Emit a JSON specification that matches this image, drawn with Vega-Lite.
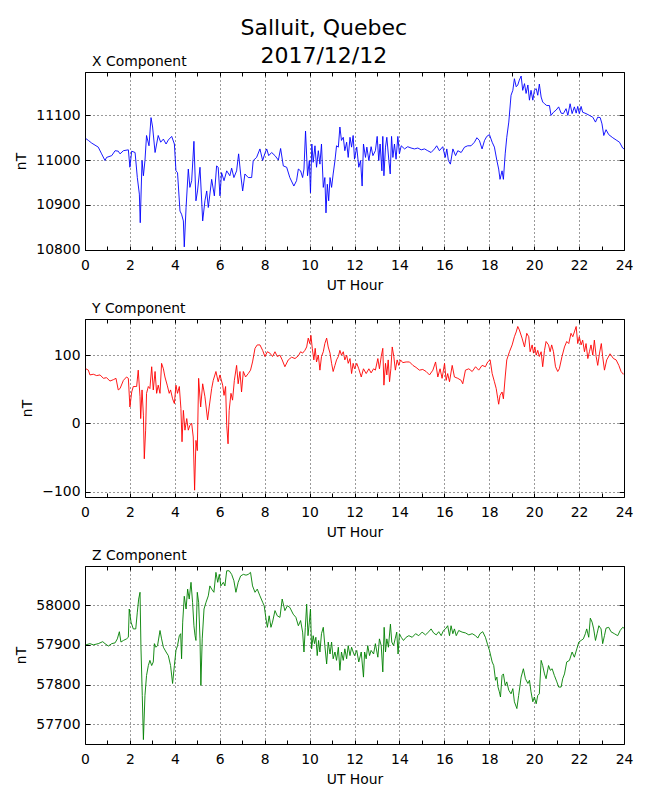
{
  "$schema": "https://vega.github.io/schema/vega-lite/v6.json",
  "padding": {"left": 14, "top": 16, "right": 10, "bottom": 10},
  "background": "white",
  "config": {
    "font": "DejaVu Sans",
    "view": {"stroke": "black", "strokeWidth": 1},
    "axis": {
      "labelFont": "DejaVu Sans", "labelFontSize": 13.9, "labelColor": "black",
      "titleFont": "DejaVu Sans", "titleFontSize": 13.9, "titleFontWeight": "normal", "titleColor": "black",
      "tickColor": "black", "tickWidth": 1, "domain": false,
      "gridColor": "black", "gridDash": [1, 3], "gridWidth": 0.8, "gridOpacity": 1,
      "labelFlush": false, "labelOverlap": false, "titlePadding": 7
    }
  },
  "title": {"text": ["Salluit, Quebec", "2017/12/12"], "fontSize": 22, "fontWeight": "normal", "font": "DejaVu Sans", "color": "black", "lineHeight": 28, "anchor": "middle", "offset": -13.5},
  "spacing": 7,
  "datasets": {
    "X": [
      {"h":0.04,"v":11048},{"h":0.15,"v":11044},{"h":0.30,"v":11038},{"h":0.59,"v":11029},{"h":0.74,"v":11014},{"h":0.89,"v":10999},{"h":0.96,"v":11006},{"h":1.19,"v":11010},{"h":1.34,"v":11021},{"h":1.48,"v":11020},{"h":1.56,"v":11014},{"h":1.71,"v":11021},{"h":1.93,"v":11023},{"h":2.00,"v":10984},{"h":2.08,"v":11020},{"h":2.23,"v":11017},{"h":2.33,"v":10961},{"h":2.42,"v":10924},{"h":2.46,"v":10860},{"h":2.54,"v":10999},{"h":2.60,"v":10965},{"h":2.67,"v":10999},{"h":2.74,"v":11055},{"h":2.85,"v":11032},{"h":2.94,"v":11095},{"h":3.01,"v":11074},{"h":3.12,"v":11017},{"h":3.26,"v":11055},{"h":3.37,"v":11040},{"h":3.49,"v":11047},{"h":3.61,"v":11036},{"h":3.71,"v":11045},{"h":3.86,"v":11053},{"h":3.98,"v":11036},{"h":4.05,"v":10976},{"h":4.12,"v":10972},{"h":4.23,"v":10886},{"h":4.30,"v":10879},{"h":4.38,"v":10864},{"h":4.42,"v":10806},{"h":4.50,"v":10894},{"h":4.60,"v":10980},{"h":4.67,"v":10939},{"h":4.75,"v":10954},{"h":4.85,"v":11042},{"h":4.94,"v":10909},{"h":5.01,"v":10931},{"h":5.12,"v":10984},{"h":5.24,"v":10864},{"h":5.34,"v":10909},{"h":5.42,"v":10931},{"h":5.49,"v":10894},{"h":5.64,"v":10957},{"h":5.76,"v":10920},{"h":5.86,"v":10987},{"h":5.93,"v":10984},{"h":6.01,"v":10920},{"h":6.08,"v":10972},{"h":6.19,"v":10954},{"h":6.31,"v":10976},{"h":6.45,"v":10965},{"h":6.53,"v":10982},{"h":6.63,"v":10961},{"h":6.75,"v":10976},{"h":6.84,"v":11014},{"h":6.93,"v":10969},{"h":7.02,"v":10931},{"h":7.12,"v":10969},{"h":7.27,"v":10961},{"h":7.42,"v":10961},{"h":7.49,"v":10999},{"h":7.64,"v":11006},{"h":7.79,"v":11025},{"h":7.91,"v":10999},{"h":8.01,"v":11015},{"h":8.09,"v":11025},{"h":8.18,"v":11010},{"h":8.31,"v":11017},{"h":8.46,"v":11010},{"h":8.61,"v":11000},{"h":8.71,"v":11026},{"h":8.83,"v":10987},{"h":8.98,"v":10984},{"h":9.12,"v":10961},{"h":9.30,"v":10942},{"h":9.42,"v":10954},{"h":9.50,"v":10980},{"h":9.60,"v":10976},{"h":9.69,"v":10961},{"h":9.75,"v":10980},{"h":9.82,"v":11065},{"h":9.91,"v":10965},{"h":9.99,"v":10999},{"h":10.04,"v":10927},{"h":10.10,"v":11036},{"h":10.16,"v":10995},{"h":10.24,"v":11032},{"h":10.31,"v":10984},{"h":10.39,"v":11021},{"h":10.46,"v":10991},{"h":10.53,"v":11036},{"h":10.61,"v":10939},{"h":10.68,"v":10961},{"h":10.73,"v":10882},{"h":10.79,"v":10946},{"h":10.85,"v":10909},{"h":10.91,"v":10961},{"h":10.98,"v":10939},{"h":11.05,"v":10969},{"h":11.13,"v":10999},{"h":11.20,"v":11032},{"h":11.28,"v":11029},{"h":11.35,"v":11074},{"h":11.42,"v":11044},{"h":11.50,"v":11051},{"h":11.57,"v":11021},{"h":11.65,"v":11040},{"h":11.72,"v":11006},{"h":11.80,"v":11051},{"h":11.87,"v":11029},{"h":11.94,"v":11055},
      {"h":12.00,"v":11002},{"h":12.10,"v":11029},{"h":12.19,"v":10984},{"h":12.27,"v":10999},{"h":12.34,"v":10942},{"h":12.40,"v":11036},{"h":12.49,"v":11006},{"h":12.55,"v":11029},{"h":12.64,"v":10999},{"h":12.74,"v":11030},{"h":12.82,"v":11010},{"h":12.93,"v":11021},{"h":13.01,"v":11053},{"h":13.08,"v":10999},{"h":13.14,"v":11036},{"h":13.22,"v":10976},{"h":13.26,"v":11053},{"h":13.31,"v":10965},{"h":13.38,"v":11029},{"h":13.44,"v":11051},{"h":13.53,"v":10999},{"h":13.59,"v":10969},{"h":13.65,"v":11053},{"h":13.71,"v":11006},{"h":13.78,"v":11036},{"h":13.85,"v":11002},{"h":13.93,"v":11053},{"h":14.00,"v":11014},{"h":14.08,"v":11032},{"h":14.23,"v":11025},{"h":14.37,"v":11030},{"h":14.52,"v":11027},{"h":14.67,"v":11025},{"h":14.82,"v":11027},{"h":14.97,"v":11023},{"h":15.12,"v":11025},{"h":15.26,"v":11021},{"h":15.41,"v":11017},{"h":15.56,"v":11025},{"h":15.66,"v":11032},{"h":15.78,"v":11021},{"h":15.93,"v":11030},{"h":16.04,"v":11006},{"h":16.11,"v":11025},{"h":16.18,"v":10999},{"h":16.27,"v":10991},{"h":16.38,"v":11025},{"h":16.50,"v":11010},{"h":16.60,"v":11021},{"h":16.75,"v":11017},{"h":16.90,"v":11029},{"h":17.04,"v":11032},{"h":17.19,"v":11032},{"h":17.34,"v":11040},{"h":17.45,"v":11050},{"h":17.56,"v":11044},{"h":17.68,"v":11025},{"h":17.79,"v":11044},{"h":17.89,"v":11053},{"h":18.01,"v":11057},{"h":18.13,"v":11040},{"h":18.23,"v":11029},{"h":18.34,"v":10999},{"h":18.42,"v":10980},{"h":18.48,"v":10957},{"h":18.57,"v":10976},{"h":18.63,"v":10957},{"h":18.71,"v":11014},{"h":18.78,"v":11051},{"h":18.87,"v":11085},{"h":18.97,"v":11145},{"h":19.05,"v":11156},{"h":19.12,"v":11182},{"h":19.20,"v":11164},{"h":19.27,"v":11168},{"h":19.34,"v":11179},{"h":19.42,"v":11188},{"h":19.49,"v":11156},{"h":19.57,"v":11171},{"h":19.64,"v":11149},{"h":19.72,"v":11168},{"h":19.79,"v":11134},{"h":19.86,"v":11156},{"h":19.94,"v":11134},{"h":20.01,"v":11156},{"h":20.09,"v":11160},{"h":20.16,"v":11145},{"h":20.23,"v":11170},{"h":20.31,"v":11141},{"h":20.38,"v":11130},{"h":20.46,"v":11126},{"h":20.56,"v":11122},{"h":20.68,"v":11122},{"h":20.75,"v":11100},{"h":20.86,"v":11107},{"h":20.98,"v":11112},{"h":21.09,"v":11119},{"h":21.20,"v":11105},{"h":21.30,"v":11104},{"h":21.42,"v":11115},{"h":21.50,"v":11100},{"h":21.60,"v":11126},{"h":21.69,"v":11104},{"h":21.79,"v":11119},{"h":21.87,"v":11105},{"h":21.94,"v":11120},{"h":22.01,"v":11104},{"h":22.09,"v":11120},{"h":22.16,"v":11107},{"h":22.31,"v":11104},{"h":22.46,"v":11100},{"h":22.61,"v":11096},{"h":22.73,"v":11085},{"h":22.83,"v":11096},{"h":22.94,"v":11095},{"h":23.02,"v":11081},{"h":23.10,"v":11055},{"h":23.20,"v":11068},{"h":23.32,"v":11057},{"h":23.50,"v":11050},{"h":23.65,"v":11045},{"h":23.80,"v":11040},{"h":23.94,"v":11027},{"h":24.00,"v":11025}
    ],
    "Y": [
      {"h":0.04,"v":80},{"h":0.15,"v":78},{"h":0.22,"v":71},{"h":0.37,"v":72},{"h":0.52,"v":70},{"h":0.67,"v":71},{"h":0.82,"v":66},{"h":0.96,"v":67},{"h":1.11,"v":62},{"h":1.26,"v":64},{"h":1.38,"v":66},{"h":1.48,"v":49},{"h":1.56,"v":51},{"h":1.71,"v":63},{"h":1.85,"v":68},{"h":1.93,"v":66},{"h":2.00,"v":24},{"h":2.08,"v":46},{"h":2.15,"v":54},{"h":2.23,"v":54},{"h":2.30,"v":54},{"h":2.37,"v":78},{"h":2.45,"v":39},{"h":2.48,"v":7},{"h":2.54,"v":49},{"h":2.60,"v":12},{"h":2.64,"v":-52},{"h":2.70,"v":-10},{"h":2.74,"v":44},{"h":2.82,"v":54},{"h":2.89,"v":51},{"h":2.97,"v":83},{"h":3.04,"v":49},{"h":3.12,"v":76},{"h":3.19,"v":44},{"h":3.26,"v":56},{"h":3.34,"v":44},{"h":3.41,"v":88},{"h":3.49,"v":80},{"h":3.56,"v":68},{"h":3.66,"v":56},{"h":3.75,"v":44},{"h":3.81,"v":49},{"h":3.90,"v":36},{"h":3.98,"v":29},{"h":4.05,"v":56},{"h":4.12,"v":44},{"h":4.20,"v":54},{"h":4.27,"v":22},{"h":4.32,"v":-27},{"h":4.38,"v":19},{"h":4.45,"v":-10},{"h":4.53,"v":7},{"h":4.60,"v":-10},{"h":4.67,"v":-3},{"h":4.75,"v":0},{"h":4.82,"v":-20},{"h":4.88,"v":-98},{"h":4.94,"v":-25},{"h":5.00,"v":-40},{"h":5.06,"v":66},{"h":5.15,"v":24},{"h":5.24,"v":58},{"h":5.34,"v":39},{"h":5.46,"v":5},{"h":5.53,"v":24},{"h":5.64,"v":51},{"h":5.71,"v":63},{"h":5.83,"v":76},{"h":5.93,"v":61},{"h":6.01,"v":71},{"h":6.13,"v":56},{"h":6.19,"v":41},{"h":6.26,"v":54},{"h":6.31,"v":-3},{"h":6.37,"v":-30},{"h":6.42,"v":19},{"h":6.50,"v":44},{"h":6.57,"v":34},{"h":6.65,"v":63},{"h":6.75,"v":85},{"h":6.82,"v":58},{"h":6.90,"v":76},{"h":6.97,"v":46},{"h":7.05,"v":76},{"h":7.15,"v":68},{"h":7.27,"v":73},{"h":7.37,"v":78},{"h":7.46,"v":90},{"h":7.57,"v":110},{"h":7.67,"v":115},{"h":7.79,"v":115},{"h":7.91,"v":107},{"h":8.01,"v":98},{"h":8.12,"v":105},{"h":8.23,"v":103},{"h":8.35,"v":98},{"h":8.46,"v":105},{"h":8.56,"v":98},{"h":8.68,"v":100},{"h":8.78,"v":93},{"h":8.90,"v":83},{"h":9.05,"v":93},{"h":9.20,"v":97},{"h":9.35,"v":95},{"h":9.50,"v":99},{"h":9.60,"v":105},{"h":9.69,"v":103},{"h":9.79,"v":107},{"h":9.87,"v":112},{"h":9.94,"v":125},{"h":10.01,"v":117},{"h":10.06,"v":129},{"h":10.12,"v":110},{"h":10.19,"v":93},{"h":10.25,"v":110},{"h":10.31,"v":90},{"h":10.39,"v":100},{"h":10.46,"v":78},{"h":10.53,"v":98},{"h":10.61,"v":105},{"h":10.68,"v":117},{"h":10.76,"v":125},{"h":10.83,"v":112},{"h":10.91,"v":103},{"h":10.98,"v":88},{"h":11.05,"v":76},{"h":11.13,"v":85},{"h":11.20,"v":93},{"h":11.28,"v":98},{"h":11.35,"v":107},{"h":11.42,"v":100},{"h":11.50,"v":105},{"h":11.57,"v":93},{"h":11.65,"v":100},{"h":11.72,"v":88},{"h":11.80,"v":95},{"h":11.87,"v":73},{"h":11.94,"v":88},
      {"h":12.00,"v":80},{"h":12.10,"v":88},{"h":12.19,"v":80},{"h":12.30,"v":68},{"h":12.40,"v":80},{"h":12.52,"v":73},{"h":12.64,"v":80},{"h":12.74,"v":74},{"h":12.85,"v":80},{"h":12.93,"v":78},{"h":13.04,"v":95},{"h":13.11,"v":80},{"h":13.19,"v":98},{"h":13.26,"v":110},{"h":13.31,"v":56},{"h":13.38,"v":88},{"h":13.44,"v":71},{"h":13.50,"v":93},{"h":13.56,"v":61},{"h":13.62,"v":80},{"h":13.68,"v":112},{"h":13.75,"v":98},{"h":13.82,"v":78},{"h":13.90,"v":93},{"h":13.97,"v":85},{"h":14.05,"v":93},{"h":14.15,"v":89},{"h":14.30,"v":90},{"h":14.45,"v":90},{"h":14.60,"v":85},{"h":14.74,"v":82},{"h":14.89,"v":78},{"h":15.04,"v":79},{"h":15.19,"v":76},{"h":15.34,"v":71},{"h":15.49,"v":78},{"h":15.61,"v":90},{"h":15.71,"v":68},{"h":15.81,"v":80},{"h":15.90,"v":66},{"h":16.01,"v":88},{"h":16.08,"v":63},{"h":16.15,"v":73},{"h":16.23,"v":61},{"h":16.35,"v":85},{"h":16.45,"v":68},{"h":16.60,"v":66},{"h":16.75,"v":63},{"h":16.82,"v":58},{"h":16.94,"v":78},{"h":17.09,"v":80},{"h":17.24,"v":76},{"h":17.39,"v":83},{"h":17.53,"v":78},{"h":17.68,"v":85},{"h":17.83,"v":83},{"h":17.93,"v":90},{"h":18.04,"v":93},{"h":18.13,"v":73},{"h":18.23,"v":61},{"h":18.31,"v":51},{"h":18.38,"v":36},{"h":18.42,"v":28},{"h":18.48,"v":41},{"h":18.57,"v":46},{"h":18.63,"v":36},{"h":18.71,"v":68},{"h":18.78,"v":93},{"h":18.90,"v":105},{"h":19.02,"v":115},{"h":19.12,"v":127},{"h":19.20,"v":134},{"h":19.27,"v":142},{"h":19.34,"v":137},{"h":19.46,"v":125},{"h":19.57,"v":112},{"h":19.67,"v":132},{"h":19.76,"v":127},{"h":19.82,"v":105},{"h":19.91,"v":115},{"h":19.97,"v":103},{"h":20.03,"v":112},{"h":20.09,"v":100},{"h":20.16,"v":107},{"h":20.23,"v":98},{"h":20.31,"v":105},{"h":20.38,"v":83},{"h":20.46,"v":107},{"h":20.53,"v":120},{"h":20.64,"v":115},{"h":20.71,"v":105},{"h":20.78,"v":115},{"h":20.86,"v":105},{"h":20.95,"v":83},{"h":21.05,"v":76},{"h":21.12,"v":80},{"h":21.24,"v":98},{"h":21.35,"v":112},{"h":21.45,"v":120},{"h":21.54,"v":117},{"h":21.64,"v":132},{"h":21.72,"v":127},{"h":21.79,"v":134},{"h":21.87,"v":142},{"h":21.94,"v":117},{"h":22.01,"v":127},{"h":22.09,"v":115},{"h":22.16,"v":122},{"h":22.24,"v":105},{"h":22.31,"v":117},{"h":22.39,"v":95},{"h":22.46,"v":105},{"h":22.53,"v":115},{"h":22.61,"v":100},{"h":22.68,"v":122},{"h":22.76,"v":98},{"h":22.83,"v":85},{"h":22.91,"v":103},{"h":22.99,"v":117},{"h":23.05,"v":98},{"h":23.13,"v":78},{"h":23.23,"v":93},{"h":23.38,"v":102},{"h":23.53,"v":95},{"h":23.65,"v":93},{"h":23.77,"v":85},{"h":23.87,"v":76},{"h":23.97,"v":72},{"h":24.00,"v":73}
    ],
    "Z": [
      {"h":0.04,"v":57900},{"h":0.22,"v":57903},{"h":0.37,"v":57900},{"h":0.59,"v":57903},{"h":0.79,"v":57908},{"h":0.89,"v":57903},{"h":1.04,"v":57897},{"h":1.19,"v":57903},{"h":1.34,"v":57905},{"h":1.44,"v":57915},{"h":1.53,"v":57933},{"h":1.60,"v":57907},{"h":1.71,"v":57911},{"h":1.85,"v":57915},{"h":1.93,"v":57919},{"h":1.97,"v":57990},{"h":2.05,"v":57957},{"h":2.15,"v":57940},{"h":2.26,"v":57940},{"h":2.33,"v":57982},{"h":2.39,"v":58015},{"h":2.45,"v":58032},{"h":2.49,"v":57898},{"h":2.55,"v":57773},{"h":2.60,"v":57662},{"h":2.67,"v":57773},{"h":2.74,"v":57823},{"h":2.82,"v":57848},{"h":2.89,"v":57861},{"h":2.97,"v":57848},{"h":3.04,"v":57857},{"h":3.09,"v":57903},{"h":3.16,"v":57894},{"h":3.23,"v":57898},{"h":3.34,"v":57936},{"h":3.41,"v":57915},{"h":3.49,"v":57894},{"h":3.61,"v":57882},{"h":3.71,"v":57873},{"h":3.81,"v":57848},{"h":3.90,"v":57803},{"h":3.98,"v":57848},{"h":4.05,"v":57886},{"h":4.12,"v":57898},{"h":4.20,"v":57923},{"h":4.26,"v":57928},{"h":4.30,"v":57865},{"h":4.35,"v":57957},{"h":4.42,"v":58022},{"h":4.50,"v":57990},{"h":4.57,"v":58040},{"h":4.64,"v":58015},{"h":4.72,"v":58057},{"h":4.79,"v":58007},{"h":4.85,"v":57948},{"h":4.90,"v":57923},{"h":4.94,"v":57911},{"h":5.00,"v":58032},{"h":5.06,"v":58007},{"h":5.12,"v":57915},{"h":5.16,"v":57798},{"h":5.22,"v":57915},{"h":5.30,"v":57990},{"h":5.39,"v":58007},{"h":5.49,"v":58023},{"h":5.56,"v":58048},{"h":5.64,"v":58040},{"h":5.74,"v":58032},{"h":5.83,"v":58082},{"h":5.91,"v":58057},{"h":5.98,"v":58077},{"h":6.05,"v":58048},{"h":6.16,"v":58057},{"h":6.23,"v":58048},{"h":6.31,"v":58086},{"h":6.42,"v":58086},{"h":6.53,"v":58077},{"h":6.63,"v":58061},{"h":6.72,"v":58032},{"h":6.82,"v":58057},{"h":6.93,"v":58073},{"h":7.05,"v":58077},{"h":7.17,"v":58075},{"h":7.27,"v":58077},{"h":7.37,"v":58082},{"h":7.46,"v":58048},{"h":7.57,"v":58032},{"h":7.67,"v":58040},{"h":7.79,"v":58023},{"h":7.91,"v":58007},{"h":7.98,"v":57998},{"h":8.06,"v":57965},{"h":8.12,"v":57944},{"h":8.20,"v":57973},{"h":8.28,"v":57944},{"h":8.35,"v":57957},{"h":8.46,"v":57986},{"h":8.56,"v":57973},{"h":8.68,"v":57969},{"h":8.78,"v":58015},{"h":8.90,"v":57986},{"h":9.01,"v":57998},{"h":9.12,"v":57994},{"h":9.27,"v":57977},{"h":9.39,"v":57969},{"h":9.50,"v":57948},{"h":9.60,"v":57961},{"h":9.69,"v":57932},{"h":9.75,"v":57882},{"h":9.81,"v":57944},{"h":9.87,"v":58002},{"h":9.93,"v":57923},{"h":9.99,"v":57957},{"h":10.04,"v":57990},{"h":10.09,"v":57890},{"h":10.16,"v":57923},{"h":10.22,"v":57903},{"h":10.28,"v":57919},{"h":10.34,"v":57873},{"h":10.40,"v":57911},{"h":10.46,"v":57882},{"h":10.53,"v":57928},{"h":10.61,"v":57944},{"h":10.68,"v":57898},{"h":10.76,"v":57852},{"h":10.83,"v":57907},{"h":10.91,"v":57877},{"h":10.98,"v":57907},{"h":11.05,"v":57865},{"h":11.13,"v":57882},{"h":11.20,"v":57861},{"h":11.28,"v":57894},{"h":11.35,"v":57836},{"h":11.42,"v":57882},{"h":11.50,"v":57861},{"h":11.57,"v":57890},{"h":11.65,"v":57865},{"h":11.72,"v":57898},{"h":11.80,"v":57873},{"h":11.87,"v":57894},{"h":11.94,"v":57882},
      {"h":12.00,"v":57873},{"h":12.10,"v":57886},{"h":12.19,"v":57857},{"h":12.30,"v":57882},{"h":12.40,"v":57819},{"h":12.45,"v":57882},{"h":12.52,"v":57865},{"h":12.59,"v":57898},{"h":12.67,"v":57873},{"h":12.74,"v":57886},{"h":12.85,"v":57877},{"h":12.93,"v":57903},{"h":13.04,"v":57869},{"h":13.11,"v":57915},{"h":13.19,"v":57898},{"h":13.26,"v":57832},{"h":13.32,"v":57944},{"h":13.38,"v":57882},{"h":13.44,"v":57915},{"h":13.51,"v":57894},{"h":13.60,"v":57952},{"h":13.66,"v":57907},{"h":13.74,"v":57898},{"h":13.81,"v":57915},{"h":13.88,"v":57932},{"h":13.94,"v":57877},{"h":14.00,"v":57928},{"h":14.08,"v":57919},{"h":14.18,"v":57911},{"h":14.30,"v":57919},{"h":14.42,"v":57923},{"h":14.57,"v":57919},{"h":14.72,"v":57928},{"h":14.86,"v":57923},{"h":15.01,"v":57932},{"h":15.16,"v":57925},{"h":15.31,"v":57933},{"h":15.41,"v":57940},{"h":15.52,"v":57930},{"h":15.64,"v":57925},{"h":15.75,"v":57933},{"h":15.86,"v":57923},{"h":15.96,"v":57936},{"h":16.05,"v":57940},{"h":16.15,"v":57948},{"h":16.23,"v":57923},{"h":16.30,"v":57948},{"h":16.38,"v":57928},{"h":16.45,"v":57940},{"h":16.53,"v":57923},{"h":16.64,"v":57936},{"h":16.79,"v":57932},{"h":16.94,"v":57930},{"h":17.09,"v":57925},{"h":17.24,"v":57928},{"h":17.39,"v":57923},{"h":17.49,"v":57917},{"h":17.59,"v":57928},{"h":17.71,"v":57933},{"h":17.83,"v":57919},{"h":17.93,"v":57900},{"h":18.01,"v":57886},{"h":18.13,"v":57857},{"h":18.20,"v":57848},{"h":18.28,"v":57811},{"h":18.34,"v":57819},{"h":18.39,"v":57794},{"h":18.45,"v":57782},{"h":18.50,"v":57769},{"h":18.57,"v":57823},{"h":18.63,"v":57827},{"h":18.71,"v":57798},{"h":18.78,"v":57807},{"h":18.87,"v":57786},{"h":18.97,"v":57777},{"h":19.05,"v":57790},{"h":19.12,"v":57757},{"h":19.23,"v":57740},{"h":19.31,"v":57773},{"h":19.42,"v":57819},{"h":19.52,"v":57840},{"h":19.61,"v":57815},{"h":19.72,"v":57803},{"h":19.79,"v":57811},{"h":19.86,"v":57782},{"h":19.94,"v":57757},{"h":20.01,"v":57769},{"h":20.09,"v":57752},{"h":20.16,"v":57773},{"h":20.23,"v":57777},{"h":20.31,"v":57861},{"h":20.38,"v":57848},{"h":20.46,"v":57827},{"h":20.53,"v":57815},{"h":20.64,"v":57848},{"h":20.72,"v":57836},{"h":20.80,"v":57840},{"h":20.90,"v":57823},{"h":21.01,"v":57807},{"h":21.09,"v":57794},{"h":21.20,"v":57794},{"h":21.27,"v":57815},{"h":21.35,"v":57827},{"h":21.45,"v":57857},{"h":21.57,"v":57861},{"h":21.69,"v":57882},{"h":21.79,"v":57869},{"h":21.90,"v":57890},{"h":21.99,"v":57907},{"h":22.09,"v":57911},{"h":22.19,"v":57915},{"h":22.28,"v":57928},{"h":22.34,"v":57940},{"h":22.43,"v":57919},{"h":22.50,"v":57967},{"h":22.58,"v":57957},{"h":22.65,"v":57940},{"h":22.73,"v":57911},{"h":22.80,"v":57928},{"h":22.88,"v":57948},{"h":22.98,"v":57940},{"h":23.05,"v":57903},{"h":23.13,"v":57923},{"h":23.20,"v":57942},{"h":23.32,"v":57944},{"h":23.42,"v":57933},{"h":23.57,"v":57928},{"h":23.72,"v":57923},{"h":23.83,"v":57936},{"h":23.94,"v":57944},{"h":24.00,"v":57942}
    ]
  },
  "vconcat": [
    {
      "width": 539, "height": 178,
      "data": {"name": "X"},
      "title": {"text": "X Component", "anchor": "start", "frame": "group", "fontSize": 13.9, "fontWeight": "normal", "font": "DejaVu Sans", "color": "black", "dx": 7, "offset": 3},
      "layer": [
        {
          "mark": {"type": "line", "color": "#0000ff", "strokeWidth": 0.9, "clip": true},
          "encoding": {
            "x": {"field": "h", "type": "quantitative", "scale": {"domain": [0, 24], "nice": false},
              "axis": {"orient": "bottom", "title": "UT Hour", "values": [0,1,2,3,4,5,6,7,8,9,10,11,12,13,14,15,16,17,18,19,20,21,22,23,24], "labelExpr": "datum.value % 2 === 0 ? datum.label : ''", "gridOpacity": {"condition": {"test": "datum.value % 2 === 0", "value": 1}, "value": 0}, "tickSize": -4, "labelPadding": 12}},
            "y": {"field": "v", "type": "quantitative", "scale": {"domain": [10799, 11197], "nice": false, "zero": false},
              "axis": {"orient": "left", "title": "nT", "values": [10800, 10900, 11000, 11100], "tickSize": -5, "labelPadding": 10, "format": "d"}}
          }
        },
        {
          "mark": {"type": "line", "strokeOpacity": 0},
          "encoding": {
            "x": {"field": "h", "type": "quantitative", "axis": {"orient": "top", "title": null, "labels": false, "grid": false, "values": [0,1,2,3,4,5,6,7,8,9,10,11,12,13,14,15,16,17,18,19,20,21,22,23,24], "tickSize": -4}},
            "y": {"field": "v", "type": "quantitative", "axis": {"orient": "right", "title": null, "labels": false, "grid": false, "values": [10800, 10900, 11000, 11100], "tickSize": -5}}
          }
        }
      ],
      "resolve": {"axis": {"x": "independent", "y": "independent"}}
    },
    {
      "width": 539, "height": 178,
      "data": {"name": "Y"},
      "title": {"text": "Y Component", "anchor": "start", "frame": "group", "fontSize": 13.9, "fontWeight": "normal", "font": "DejaVu Sans", "color": "black", "dx": 7, "offset": 3},
      "layer": [
        {
          "mark": {"type": "line", "color": "#ff0000", "strokeWidth": 0.9, "clip": true},
          "encoding": {
            "x": {"field": "h", "type": "quantitative", "scale": {"domain": [0, 24], "nice": false},
              "axis": {"orient": "bottom", "title": "UT Hour", "values": [0,1,2,3,4,5,6,7,8,9,10,11,12,13,14,15,16,17,18,19,20,21,22,23,24], "labelExpr": "datum.value % 2 === 0 ? datum.label : ''", "gridOpacity": {"condition": {"test": "datum.value % 2 === 0", "value": 1}, "value": 0}, "tickSize": -4, "labelPadding": 12}},
            "y": {"field": "v", "type": "quantitative", "scale": {"domain": [-108, 153], "nice": false, "zero": false},
              "axis": {"orient": "left", "title": "nT", "values": [-100, 0, 100], "tickSize": -5, "labelPadding": 10, "labelExpr": "replace(datum.label, '-', '\u2212')"}}
          }
        },
        {
          "mark": {"type": "line", "strokeOpacity": 0},
          "encoding": {
            "x": {"field": "h", "type": "quantitative", "axis": {"orient": "top", "title": null, "labels": false, "grid": false, "values": [0,1,2,3,4,5,6,7,8,9,10,11,12,13,14,15,16,17,18,19,20,21,22,23,24], "tickSize": -4}},
            "y": {"field": "v", "type": "quantitative", "axis": {"orient": "right", "title": null, "labels": false, "grid": false, "values": [-100, 0, 100], "tickSize": -5}}
          }
        }
      ],
      "resolve": {"axis": {"x": "independent", "y": "independent"}}
    },
    {
      "width": 539, "height": 178,
      "data": {"name": "Z"},
      "title": {"text": "Z Component", "anchor": "start", "frame": "group", "fontSize": 13.9, "fontWeight": "normal", "font": "DejaVu Sans", "color": "black", "dx": 7, "offset": 3},
      "layer": [
        {
          "mark": {"type": "line", "color": "#008000", "strokeWidth": 0.9, "clip": true},
          "encoding": {
            "x": {"field": "h", "type": "quantitative", "scale": {"domain": [0, 24], "nice": false},
              "axis": {"orient": "bottom", "title": "UT Hour", "values": [0,1,2,3,4,5,6,7,8,9,10,11,12,13,14,15,16,17,18,19,20,21,22,23,24], "labelExpr": "datum.value % 2 === 0 ? datum.label : ''", "gridOpacity": {"condition": {"test": "datum.value % 2 === 0", "value": 1}, "value": 0}, "tickSize": -4, "labelPadding": 12}},
            "y": {"field": "v", "type": "quantitative", "scale": {"domain": [57651, 58098], "nice": false, "zero": false},
              "axis": {"orient": "left", "title": "nT", "values": [57700, 57800, 57900, 58000], "tickSize": -5, "labelPadding": 10, "format": "d"}}
          }
        },
        {
          "mark": {"type": "line", "strokeOpacity": 0},
          "encoding": {
            "x": {"field": "h", "type": "quantitative", "axis": {"orient": "top", "title": null, "labels": false, "grid": false, "values": [0,1,2,3,4,5,6,7,8,9,10,11,12,13,14,15,16,17,18,19,20,21,22,23,24], "tickSize": -4}},
            "y": {"field": "v", "type": "quantitative", "axis": {"orient": "right", "title": null, "labels": false, "grid": false, "values": [57700, 57800, 57900, 58000], "tickSize": -5}}
          }
        }
      ],
      "resolve": {"axis": {"x": "independent", "y": "independent"}}
    }
  ]
}
